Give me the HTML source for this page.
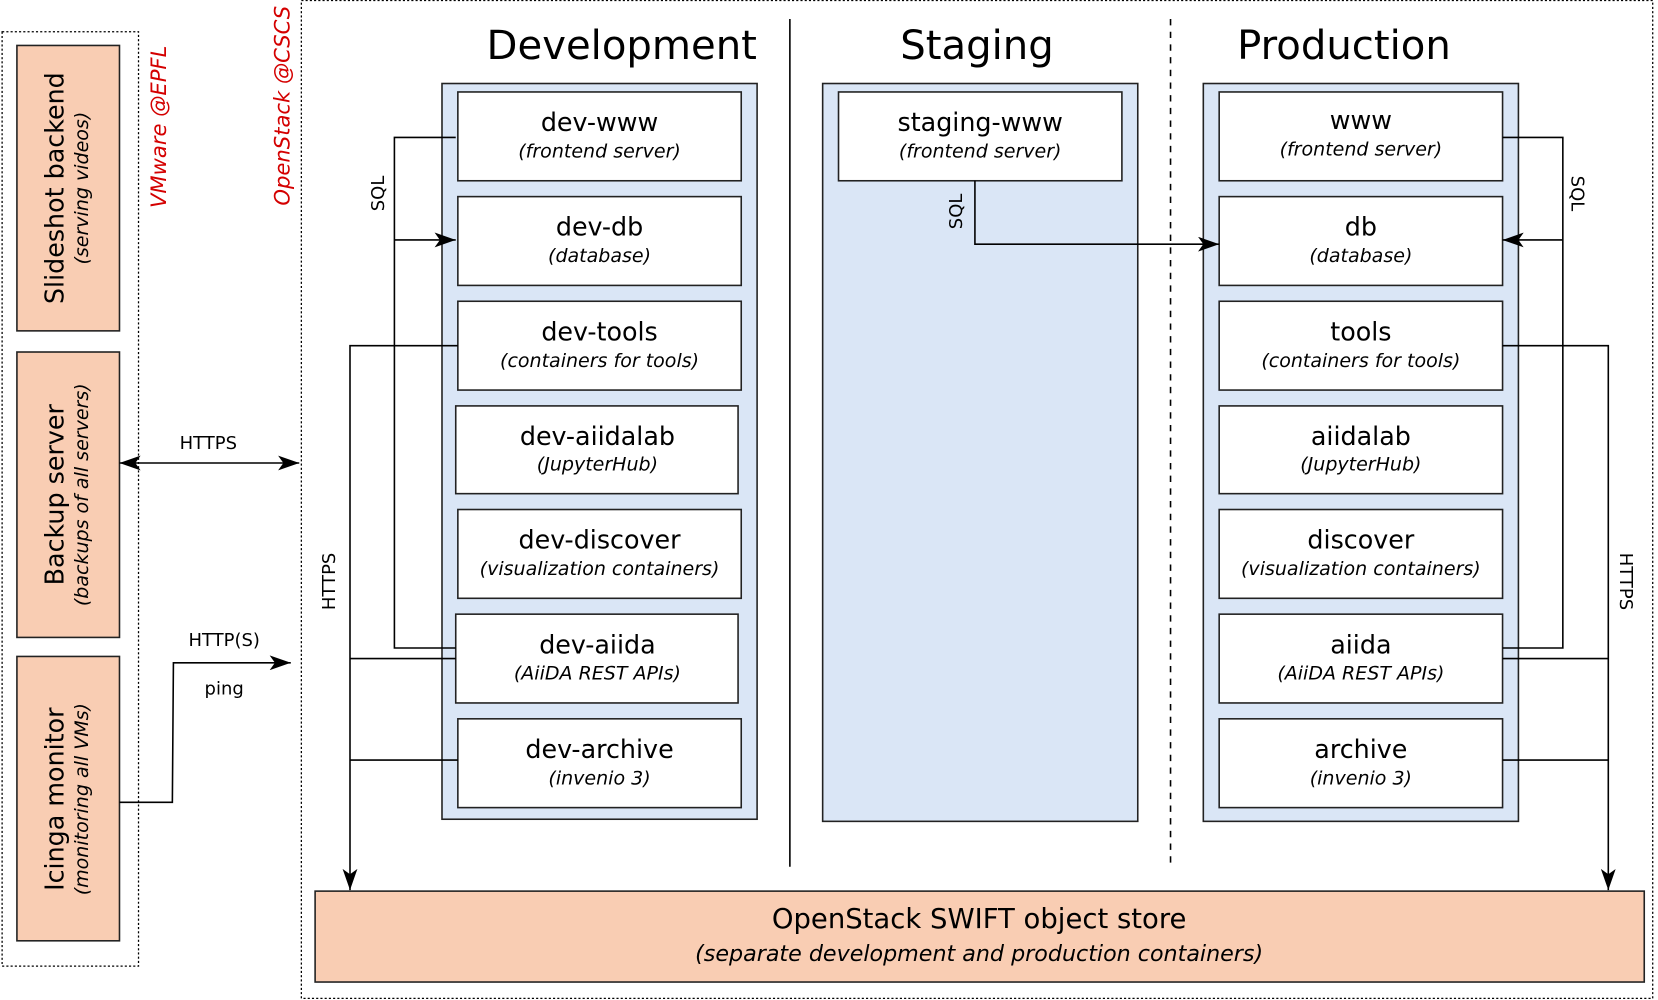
<!DOCTYPE html>
<html><head><meta charset="utf-8"><style>html,body{margin:0;padding:0;background:#fff}svg{display:block}</style></head>
<body>
<svg width="1658" height="1000" viewBox="0 0 1568 946" preserveAspectRatio="none" xmlns="http://www.w3.org/2000/svg" font-family="DejaVu Sans, Liberation Sans, sans-serif">
<defs>
<marker id="b" viewBox="0 0 20 14" refX="20" refY="7" markerWidth="20" markerHeight="14" markerUnits="userSpaceOnUse" orient="auto-start-reverse"><path d="M0,0 L20,7 L0,14 L5,7 Z" fill="#000"/></marker>
</defs>
<g fill="none" stroke="#000" stroke-width="1.2" stroke-dasharray="2,2">
<rect x="2" y="30" width="129" height="884"/>
<rect x="285" y="0.5" width="1278" height="944"/>
</g>
<g fill="#f9cdb3" stroke="#222" stroke-width="1.5">
<rect x="16" y="43" width="97" height="270"/>
<rect x="16" y="333" width="97" height="270"/>
<rect x="16" y="621" width="97" height="269"/>
<rect x="298" y="843" width="1257" height="86"/>
</g>
<g text-anchor="middle" fill="#000">
<text transform="translate(60,178) rotate(-90)" font-size="24">Slideshot backend</text>
<text transform="translate(83,178) rotate(-90)" font-size="18" font-style="italic">(serving videos)</text>
<text transform="translate(60,468) rotate(-90)" font-size="24">Backup server</text>
<text transform="translate(83,468) rotate(-90)" font-size="18" font-style="italic">(backups of all servers)</text>
<text transform="translate(60,756) rotate(-90)" font-size="24">Icinga monitor</text>
<text transform="translate(83,756) rotate(-90)" font-size="18" font-style="italic">(monitoring all VMs)</text>
<text transform="translate(157,120) rotate(-90)" font-size="20" font-style="italic" fill="#d40000">VMware @EPFL</text>
<text transform="translate(274,100) rotate(-90)" font-size="20" font-style="italic" fill="#d40000">OpenStack @CSCS</text>
<text x="588" y="56" font-size="38">Development</text>
<text x="924" y="56" font-size="38">Staging</text>
<text x="1271" y="56" font-size="38">Production</text>
<text x="926" y="878" font-size="26">OpenStack SWIFT object store</text>
<text x="926" y="909" font-size="21" font-style="italic">(separate development and production containers)</text>
</g>
<line x1="747" y1="18" x2="747" y2="820" stroke="#000" stroke-width="1.5"/>
<line x1="1107" y1="18" x2="1107" y2="820" stroke="#000" stroke-width="1.5" stroke-dasharray="6,6"/>
<g fill="#dae6f6" stroke="#222" stroke-width="1.5">
<rect x="418" y="79" width="298" height="696"/>
<rect x="778" y="79" width="298" height="698"/>
<rect x="1138" y="79" width="298" height="698"/>
</g>
<g fill="#fff" stroke="#222" stroke-width="1.5">
<rect x="433" y="87" width="268" height="84"/>
<rect x="433" y="186" width="268" height="84"/>
<rect x="433" y="285" width="268" height="84"/>
<rect x="431" y="384" width="267" height="83"/>
<rect x="433" y="482" width="268" height="84"/>
<rect x="431" y="581" width="267" height="84"/>
<rect x="433" y="680" width="268" height="84"/>
<rect x="793" y="87" width="268" height="84"/>
<rect x="1153" y="87" width="268" height="84"/>
<rect x="1153" y="186" width="268" height="84"/>
<rect x="1153" y="285" width="268" height="84"/>
<rect x="1153" y="384" width="268" height="83"/>
<rect x="1153" y="482" width="268" height="84"/>
<rect x="1153" y="581" width="268" height="84"/>
<rect x="1153" y="680" width="268" height="84"/>
</g>
<g text-anchor="middle" fill="#000">
<g font-size="24">
<text x="567" y="124">dev-www</text><text x="567" y="223">dev-db</text><text x="567" y="322">dev-tools</text>
<text x="565" y="421">dev-aiidalab</text><text x="567" y="519">dev-discover</text><text x="565" y="618">dev-aiida</text><text x="567" y="717">dev-archive</text>
<text x="927" y="124">staging-www</text>
<text x="1287" y="122">www</text><text x="1287" y="223">db</text><text x="1287" y="322">tools</text>
<text x="1287" y="421">aiidalab</text><text x="1287" y="519">discover</text><text x="1287" y="618">aiida</text><text x="1287" y="717">archive</text>
</g>
<g font-size="18" font-style="italic">
<text x="567" y="149">(frontend server)</text><text x="567" y="248">(database)</text><text x="567" y="347">(containers for tools)</text>
<text x="565" y="445">(JupyterHub)</text><text x="567" y="544">(visualization containers)</text><text x="565" y="643">(AiiDA REST APIs)</text><text x="567" y="742">(invenio 3)</text>
<text x="927" y="149">(frontend server)</text>
<text x="1287" y="147">(frontend server)</text><text x="1287" y="248">(database)</text><text x="1287" y="347">(containers for tools)</text>
<text x="1287" y="445">(JupyterHub)</text><text x="1287" y="544">(visualization containers)</text><text x="1287" y="643">(AiiDA REST APIs)</text><text x="1287" y="742">(invenio 3)</text>
</g>
<g font-size="17">
<text transform="translate(363,183) rotate(-90)">SQL</text>
<text transform="translate(910,200) rotate(-90)">SQL</text>
<text transform="translate(1486,183) rotate(90)">SQL</text>
<text transform="translate(317,550) rotate(-90)">HTTPS</text>
<text transform="translate(1532,550) rotate(90)">HTTPS</text>
<text x="197" y="425">HTTPS</text>
<text x="212" y="611">HTTP(S)</text>
<text x="212" y="657">ping</text>
</g>
</g>
<g fill="none" stroke="#000" stroke-width="1.5">
<polyline points="431,130 373,130 373,613 431,613"/>
<line x1="373" y1="227" x2="431" y2="227" marker-end="url(#b)"/>
<polyline points="433,327 331,327 331,842" marker-end="url(#b)"/>
<line x1="331" y1="623" x2="431" y2="623"/>
<line x1="331" y1="719" x2="433" y2="719"/>
<polyline points="922,171 922,231 1153,231" marker-end="url(#b)"/>
<polyline points="1421,130 1478,130 1478,613 1421,613"/>
<line x1="1478" y1="227" x2="1421" y2="227" marker-end="url(#b)"/>
<polyline points="1421,327 1521,327 1521,842" marker-end="url(#b)"/>
<line x1="1421" y1="623" x2="1521" y2="623"/>
<line x1="1421" y1="719" x2="1521" y2="719"/>
<line x1="113" y1="438" x2="283" y2="438" marker-start="url(#b)" marker-end="url(#b)"/>
<polyline points="113,759 163,759 164,627 275,627" marker-end="url(#b)"/>
</g>
</svg>
</body></html>
